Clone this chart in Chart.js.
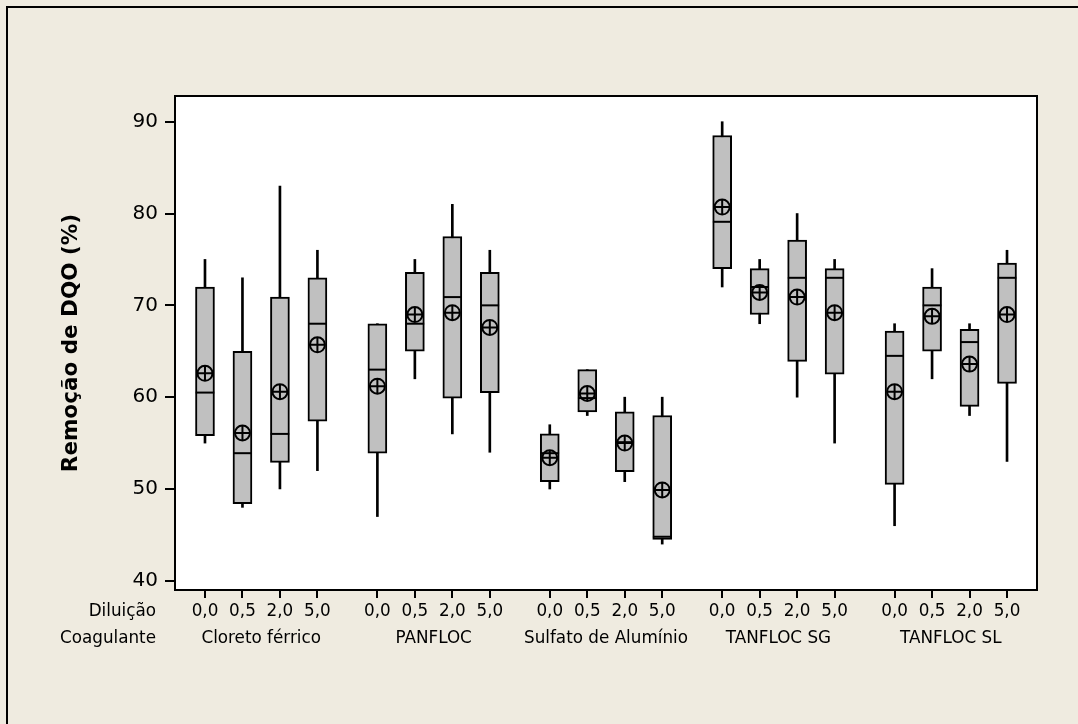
<!DOCTYPE html>
<html><head><meta charset="utf-8">
<script src="https://cdn.jsdelivr.net/npm/chart.js@4.4.0/dist/chart.umd.min.js"></script>
<style>html,body{margin:0;padding:0;background:#EFEBE0;overflow:hidden}</style>
</head><body>
<canvas id="c" width="1078" height="724"></canvas>
<script>
const coagulants = ['Cloreto férrico', 'PANFLOC', 'Sulfato de Alumínio', 'TANFLOC SG', 'TANFLOC SL'];
const dilutions = ['0,0', '0,5', '2,0', '5,0'];
const yTicks = [40, 50, 60, 70, 80, 90];

const whiskerLow  = [55, 48, 50, 52,   47, 62, 56, 54,   50, 58, 50.8, 44,   72, 68, 60, 55,   46, 62, 58, 53];
const q1          = [55.8, 48.4, 52.9, 57.4,   53.9, 65, 59.9, 60.5,   50.8, 58.4, 51.9, 44.5,   74, 69, 63.9, 62.5,   50.5, 65, 59, 61.5];
const median      = [60.5, 53.9, 56, 68,   63, 68, 70.9, 70,   53.9, 59.9, 55.1, 44.8,   79.1, 72, 73, 73,   64.5, 70, 66, 73];
const q3          = [72, 65, 70.9, 73,   68, 73.6, 77.5, 73.6,   56, 63, 58.4, 58,   88.5, 74, 77.1, 74,   67.2, 72, 67.4, 74.6];
const whiskerHigh = [75, 73, 83, 76,   68, 75, 81, 76,   57, 63, 60, 60,   90, 75, 80, 75,   68, 74, 68, 76];
const mean        = [62.6, 56.1, 60.6, 65.7,   61.2, 69, 69.2, 67.6,   53.4, 60.4, 55, 49.9,   80.7, 71.4, 70.9, 69.2,   60.6, 68.8, 63.6, 69];

const GROUP_STEP = 4.6;
const xPos = k => Math.floor(k / dilutions.length) * GROUP_STEP + (k % dilutions.length);
const boxPositions = whiskerLow.map((_, k) => xPos(k));
const groupCenters = coagulants.map((_, g) => g * GROUP_STEP + (dilutions.length - 1) / 2);

const FONT = "'DejaVu Sans', Verdana, sans-serif";
const XFONT_SIZE = 16.8;
const X_PAD = 12, X2_PAD = 9, X_TICKLEN = 8;

const framePlugin = {
  id: 'frame',
  beforeDraw(chart) {
    const {ctx, chartArea: a} = chart;
    ctx.save();
    ctx.fillStyle = '#EFEBE0';
    ctx.fillRect(0, 0, chart.width, chart.height);
    ctx.fillStyle = '#FFFFFF';
    ctx.fillRect(a.left, a.top, a.right - a.left, a.bottom - a.top);
    ctx.strokeStyle = '#000';
    ctx.lineWidth = 2;
    ctx.beginPath();
    ctx.moveTo(7, chart.height); ctx.lineTo(7, 7); ctx.lineTo(chart.width, 7);
    ctx.stroke();
    ctx.restore();
  },
  afterDraw(chart) {
    const {ctx, chartArea: a} = chart;
    const xs = chart.scales.x, xs2 = chart.scales.x2;
    ctx.save();
    ctx.strokeStyle = '#000';
    ctx.lineWidth = 2;
    // x tick marks at every box position, taken from the x scale
    ctx.beginPath();
    xs.ticks.forEach(t => {
      const px = Math.round(xs.getPixelForValue(t.value));
      ctx.moveTo(px, a.bottom);
      ctx.lineTo(px, a.bottom + X_TICKLEN);
    });
    ctx.stroke();
    ctx.strokeRect(a.left, a.top, a.right - a.left, a.bottom - a.top);
    ctx.fillStyle = '#000';
    ctx.font = XFONT_SIZE + "px " + FONT;
    ctx.textAlign = 'right';
    ctx.textBaseline = 'middle';
    const lh = XFONT_SIZE * 1.2;
    ctx.fillText('Diluição', 156, xs.top + X_PAD + lh / 2);
    ctx.fillText('Coagulante', 156, xs2.top + X2_PAD + lh / 2);
    ctx.restore();
  }
};

new Chart(document.getElementById('c'), {
  type: 'bar',
  data: {
    datasets: [
      {
        type: 'scatter', label: 'cross', order: 0,
        data: mean.map((v, k) => ({x: boxPositions[k], y: v})),
        pointStyle: 'cross', pointRadius: 7.5, borderColor: '#000', borderWidth: 2,
        backgroundColor: 'rgba(0,0,0,0)'
      },
      {
        type: 'scatter', label: 'mean', order: 1,
        data: mean.map((v, k) => ({x: boxPositions[k], y: v})),
        pointStyle: 'circle', pointRadius: 7.5, borderColor: '#000', borderWidth: 2,
        backgroundColor: 'rgba(0,0,0,0)'
      },
      {
        type: 'scatter', label: 'median', order: 2,
        data: median.map((v, k) => ({x: boxPositions[k], y: v})),
        pointStyle: 'line', pointRadius: 9.3, borderColor: '#000', borderWidth: 2
      },
      {
        type: 'bar', label: 'box', order: 3, grouped: false,
        data: q1.map((v, k) => ({x: boxPositions[k], y: [v, q3[k]]})),
        backgroundColor: '#C0C0C0', borderColor: '#000', borderWidth: 2,
        borderSkipped: false, barThickness: 19
      },
      {
        type: 'bar', label: 'whisker', order: 4, grouped: false,
        data: whiskerLow.map((v, k) => ({x: boxPositions[k], y: [v, whiskerHigh[k]]})),
        backgroundColor: '#000', borderWidth: 0, barThickness: 2
      }
    ]
  },
  options: {
    responsive: false,
    animation: false,
    events: [],
    devicePixelRatio: 1,
    layout: {padding: {left: 0, top: 96, right: 41, bottom: 74}},
    plugins: {legend: {display: false}, tooltip: {enabled: false}},
    scales: {
      x: {
        type: 'linear', position: 'bottom', weight: 0,
        min: -0.8, max: 22.2, offset: false,
        afterBuildTicks: s => { s.ticks = boxPositions.map(v => ({value: v})); },
        afterFit: s => { s.height = 30; },
        ticks: {
          autoSkip: false, maxRotation: 0, padding: X_PAD, color: '#000',
          font: {family: FONT, size: XFONT_SIZE},
          callback: (v, i) => dilutions[i % dilutions.length]
        },
        grid: {display: false, drawTicks: false, offset: false},
        border: {display: false}
      },
      x2: {
        type: 'linear', position: 'bottom', weight: 1,
        min: -0.8, max: 22.2, offset: false,
        afterBuildTicks: s => { s.ticks = groupCenters.map(v => ({value: v})); },
        afterFit: s => { s.height = 30; },
        ticks: {
          autoSkip: false, maxRotation: 0, padding: X2_PAD, color: '#000',
          font: {family: FONT, size: XFONT_SIZE},
          callback: (v, i) => coagulants[i]
        },
        grid: {display: false, drawTicks: false, offset: false},
        border: {display: false}
      },
      y: {
        type: 'linear', position: 'left',
        min: 39, max: 92.8,
        afterBuildTicks: s => { s.ticks = yTicks.map(v => ({value: v})); },
        afterFit: s => { s.width = 175; },
        ticks: {padding: 7, color: '#000', font: {family: FONT, size: 20}},
        grid: {drawOnChartArea: false, drawTicks: true, tickLength: 10, color: '#000', lineWidth: 2},
        border: {display: false},
        title: {
          display: true, text: 'Remoção de DQO (%)', color: '#000',
          font: {family: FONT, size: 21.5, weight: 'bold'},
          padding: {top: 59, bottom: 0}
        }
      }
    }
  },
  plugins: [framePlugin]
});
</script>
</body></html>
